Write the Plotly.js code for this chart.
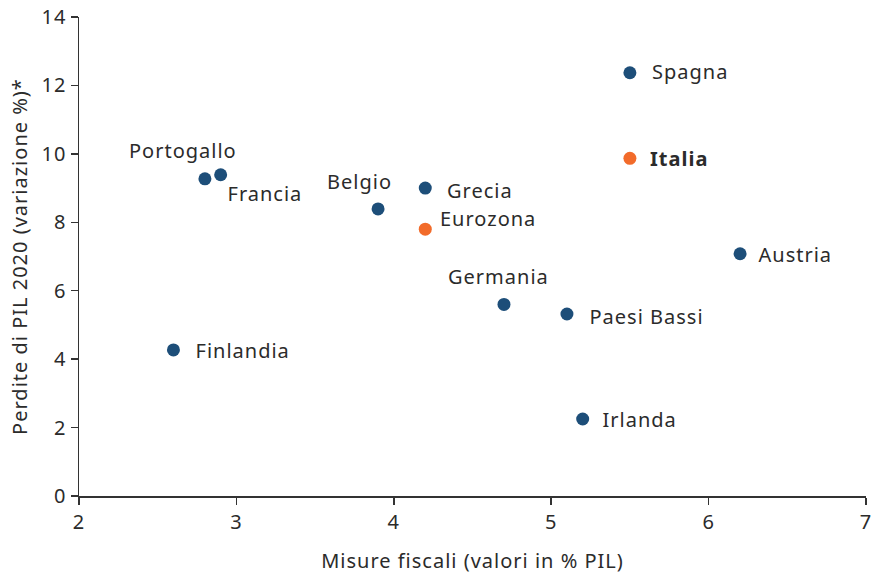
<!DOCTYPE html>
<html>
<head>
<meta charset="utf-8">
<script src="https://cdn.plot.ly/plotly-3.0.1.min.js"></script>
<style>html,body{margin:0;padding:0;background:#fff;}#chart{width:877px;height:574px;}#chart svg text{letter-spacing:1px;}</style>
</head>
<body>
<div id="chart"></div>
<script>
const countries = ["Portogallo","Francia","Finlandia","Belgio","Grecia","Eurozona","Germania","Paesi Bassi","Irlanda","Spagna","Italia","Austria"];
const fiscalMeasures = [2.8, 2.9, 2.6, 3.9, 4.2, 4.2, 4.7, 5.1, 5.2, 5.5, 5.5, 6.2];
const gdpLoss = [9.27, 9.39, 4.27, 8.39, 9.0, 7.8, 5.6, 5.32, 2.25, 12.37, 9.87, 7.08];
const highlighted = ["Eurozona", "Italia"];
const boldLabels = ["Italia"];
const xTicks = [2, 3, 4, 5, 6, 7];
const yTicks = [0, 2, 4, 6, 8, 10, 12, 14];

// label placement (style only): [xanchor, xshift, yshift]
const labelPlacement = {
  "Portogallo": ["center", -22, 28],
  "Francia": ["left", 8, -19],
  "Finlandia": ["left", 25, -1],
  "Belgio": ["center", -19, 27],
  "Grecia": ["left", 23, -2],
  "Eurozona": ["left", 17, 11],
  "Germania": ["center", -5, 28],
  "Paesi Bassi": ["left", 26, -3],
  "Irlanda": ["left", 21, 0],
  "Spagna": ["left", 23, 1],
  "Italia": ["left", 21, 0],
  "Austria": ["left", 20, -1]
};

const BLUE = "#1d4e79";
const ORANGE = "#f26b2a";
const TEXT = "#2b2b2b";
const FONT = "Noto Sans, Open Sans, sans-serif";
const FS = 20;

const colors = countries.map(c => highlighted.includes(c) ? ORANGE : BLUE);

const trace = {
  type: "scatter",
  mode: "markers",
  x: fiscalMeasures,
  y: gdpLoss,
  marker: {size: 13, color: colors, line: {width: 0}},
  hoverinfo: "text",
  text: countries
};

const annotations = countries.map((c, i) => {
  const p = labelPlacement[c];
  return {
    x: fiscalMeasures[i], y: gdpLoss[i], xref: "x", yref: "y",
    text: boldLabels.includes(c) ? "<b>" + c + "</b>" : c,
    showarrow: false, xanchor: p[0], yanchor: "middle",
    xshift: p[1], yshift: p[2],
    font: {family: FONT, size: FS, color: TEXT}
  };
});

const layout = {
  width: 877, height: 574,
  margin: {l: 79, r: 11, t: 17, b: 78},
  paper_bgcolor: "#fff", plot_bgcolor: "#fff",
  showlegend: false,
  font: {family: FONT, size: FS, color: TEXT},
  xaxis: {
    range: [2, 7], tickvals: xTicks, ticktext: xTicks.map(String),
    showgrid: false, zeroline: false, showline: true, linecolor: "#333", linewidth: 1.5,
    ticks: "outside", ticklen: 7, tickcolor: "#333", tickwidth: 1.5,
    tickfont: {family: FONT, size: FS, color: TEXT},
    title: {text: "Misure fiscali (valori in % PIL)", font: {family: FONT, size: FS, color: TEXT}, standoff: 20}
  },
  yaxis: {
    range: [0, 14], tickvals: yTicks, ticktext: yTicks.map(String),
    showgrid: false, zeroline: false, showline: true, linecolor: "#333", linewidth: 1.5,
    ticks: "outside", ticklen: 7, tickcolor: "#333", tickwidth: 1.5,
    tickfont: {family: FONT, size: FS, color: TEXT},
    title: {text: "Perdite di PIL 2020 (variazione %)*", font: {family: FONT, size: FS, color: TEXT}, standoff: 10}
  },
  annotations: annotations
};

Plotly.newPlot("chart", [trace], layout, {displayModeBar: false, staticPlot: true});
</script>
</body>
</html>
